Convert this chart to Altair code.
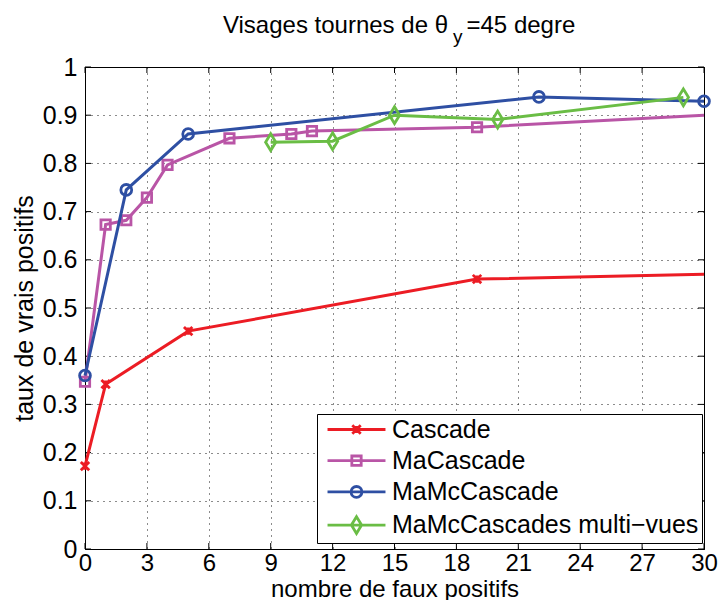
import altair as alt
import pandas as pd

# ---------------- data ----------------
series_names = ["Cascade", "MaCascade", "MaMcCascade", "MaMcCascades multi\u2212vues"]
series_colors = ["#ec1c24", "#b955a6", "#2e4fa3", "#6abd45"]

cascade_x = [0, 1, 5, 19, 30]
cascade_y = [0.172, 0.342, 0.452, 0.560, 0.570]
cascade_mark = [True, True, True, True, False]

macascade_x = [0, 1, 2, 3, 4, 7, 10, 11, 19, 30]
macascade_y = [0.347, 0.673, 0.682, 0.729, 0.797, 0.852, 0.861, 0.867, 0.875, 0.900]
macascade_mark = [True, True, True, True, True, True, True, True, True, False]

mamc_x = [0, 2, 5, 22, 30]
mamc_y = [0.360, 0.745, 0.861, 0.938, 0.929]
mamc_mark = [True, True, True, True, True]

multi_x = [9, 12, 15, 20, 29]
multi_y = [0.844, 0.846, 0.900, 0.891, 0.937]
multi_mark = [True, True, True, True, True]

x_ticks = [0, 3, 6, 9, 12, 15, 18, 21, 24, 27, 30]
y_ticks = [0, 0.1, 0.2, 0.3, 0.4, 0.5, 0.6, 0.7, 0.8, 0.9, 1.0]

title_main = "Visages tournes de \u03b8"
title_sub = "y"
title_rest = "=45 degre"
x_title = "nombre de faux positifs"
y_title = "taux de vrais positifs"

# ---------------- styles ----------------
FONT = "Liberation Sans"
W, H = 619, 482

marker_paths = [
    lambda dx=0: (f"M{-0.7+dx},-0.7L{0.7+dx},0.7M{-0.7+dx},0.7L{0.7+dx},-0.7"
                  f"M{dx},-0.6L{dx},0.6"),
    lambda dx=0: f"M{-0.78+dx},-0.78L{0.78+dx},-0.78L{0.78+dx},0.78L{-0.78+dx},0.78Z",
    lambda dx=0: f"M{0.9+dx},0A0.9,0.9,0,1,1,{-0.9+dx},0A0.9,0.9,0,1,1,{0.9+dx},0Z",
    lambda dx=0: f"M{dx},-1.4L{0.85+dx},0L{dx},1.4L{-0.85+dx},0Z",
]
LEG_A, LEG_B, LEG_M = -0.83, 8.83, 4.0
legend_paths = [f"M{LEG_A},0L{LEG_B},0" + p(LEG_M) for p in marker_paths]

xaxis = alt.Axis(values=x_ticks, format="d", labelFont=FONT, labelFontSize=24,
                 labelColor="black", labelPadding=21, labelBaseline="alphabetic",
                 ticks=False, tickSize=0, domainColor="black", domainWidth=1,
                 grid=True, gridColor="black", gridDash=[1, 5], gridWidth=1, gridOpacity=0.9,
                 titleFont=FONT, titleFontSize=24, titleFontWeight="normal", titleColor="black",
                 titleY=47, titleBaseline="alphabetic", labelFlush=False)
yaxis = alt.Axis(values=y_ticks, format=".1~f", labelFont=FONT, labelFontSize=25,
                 labelColor="black", labelPadding=8, ticks=False, tickSize=0,
                 domainColor="black", domainWidth=1,
                 grid=True, gridColor="black", gridDash=[1, 5], gridWidth=1, gridOpacity=0.9,
                 titleFont=FONT, titleFontSize=25, titleFontWeight="normal", titleColor="black",
                 titleX=-53, titleY=H / 2, titleAngle=-90, titleBaseline="alphabetic",
                 titleAlign="center", labelFlush=False)

X = alt.X("x:Q", scale=alt.Scale(domain=[0, 30], nice=False, zero=False), axis=xaxis, title=x_title)
Y = alt.Y("y:Q", scale=alt.Scale(domain=[0, 1], nice=False, zero=False), axis=yaxis, title=y_title)

layers = []

# inward tick marks (positions from tick values via scales)
xt = pd.DataFrame({"x": x_ticks})
yt = pd.DataFrame({"y": y_ticks})
tick_style = dict(color="black", strokeWidth=1)
layers.append(alt.Chart(xt).mark_rule(**tick_style).encode(x=X, y=alt.value(H), y2=alt.value(H - 6)))
layers.append(alt.Chart(xt).mark_rule(**tick_style).encode(x=X, y=alt.value(0), y2=alt.value(6)))
layers.append(alt.Chart(yt).mark_rule(**tick_style).encode(y=Y, x=alt.value(0), x2=alt.value(6)))
layers.append(alt.Chart(yt).mark_rule(**tick_style).encode(y=Y, x=alt.value(W), x2=alt.value(W - 6)))

all_series = [
    (cascade_x, cascade_y, cascade_mark),
    (macascade_x, macascade_y, macascade_mark),
    (mamc_x, mamc_y, mamc_mark),
    (multi_x, multi_y, multi_mark),
]

frames = []
for i, (xs, ys, ms) in enumerate(all_series):
    df = pd.DataFrame({"x": xs, "y": ys, "m": ms, "series": series_names[i]})
    frames.append(df)
    line = alt.Chart(df).mark_line(color=series_colors[i], strokeWidth=3).encode(x=X, y=Y)
    pts = alt.Chart(df[df["m"]]).mark_point(
        shape=marker_paths[i](), size=144, filled=False, strokeWidth=2.8,
        color=series_colors[i], opacity=1,
    ).encode(x=X, y=Y)
    layers += [line, pts]

# legend carrier (invisible marks, legend symbols drawn line+marker)
leg_df = pd.concat([f.head(1) for f in frames], ignore_index=True)
legend = alt.Legend(
    title=None, orient="none", legendX=232, legendY=347,
    strokeColor="black", fillColor="white", padding=3, cornerRadius=0,
    labelFont=FONT, labelFontSize=25, labelColor="black", labelOffset=47,
    labelLimit=400, rowPadding=5.2, symbolSize=144, symbolStrokeWidth=2.8,
    symbolOpacity=1, symbolOffset=0,
)
leg_layer = alt.Chart(leg_df).mark_point(opacity=0, filled=False, size=144).encode(
    x=X, y=Y,
    color=alt.Color("series:N", scale=alt.Scale(domain=series_names, range=series_colors), legend=legend),
    shape=alt.Shape("series:N", scale=alt.Scale(domain=series_names, range=legend_paths), legend=legend),
)
layers.append(leg_layer)

# title with subscript
one = pd.DataFrame({"a": [0]})
layers.append(alt.Chart(one).mark_text(font=FONT, fontSize=24, align="right", baseline="alphabetic",
                                        color="black").encode(
    x=alt.value(363), y=alt.value(-33.7), text=alt.value(title_main)))
layers.append(alt.Chart(one).mark_text(font=FONT, fontSize=19, align="left", baseline="alphabetic",
                                        color="black").encode(
    x=alt.value(368), y=alt.value(-24.5), text=alt.value(title_sub)))
layers.append(alt.Chart(one).mark_text(font=FONT, fontSize=24, align="left", baseline="alphabetic",
                                        color="black").encode(
    x=alt.value(381.5), y=alt.value(-33.7), text=alt.value(title_rest)))

chart = alt.layer(*layers).properties(
    width=W, height=H,
    autosize=alt.AutoSizeParams(type="none"),
    padding={"left": 77, "top": 59, "right": 14, "bottom": 51},
    background="white",
).configure_view(stroke="black", strokeWidth=1)

chart.save("out.html", embed_options={"renderer": "svg", "actions": False})
